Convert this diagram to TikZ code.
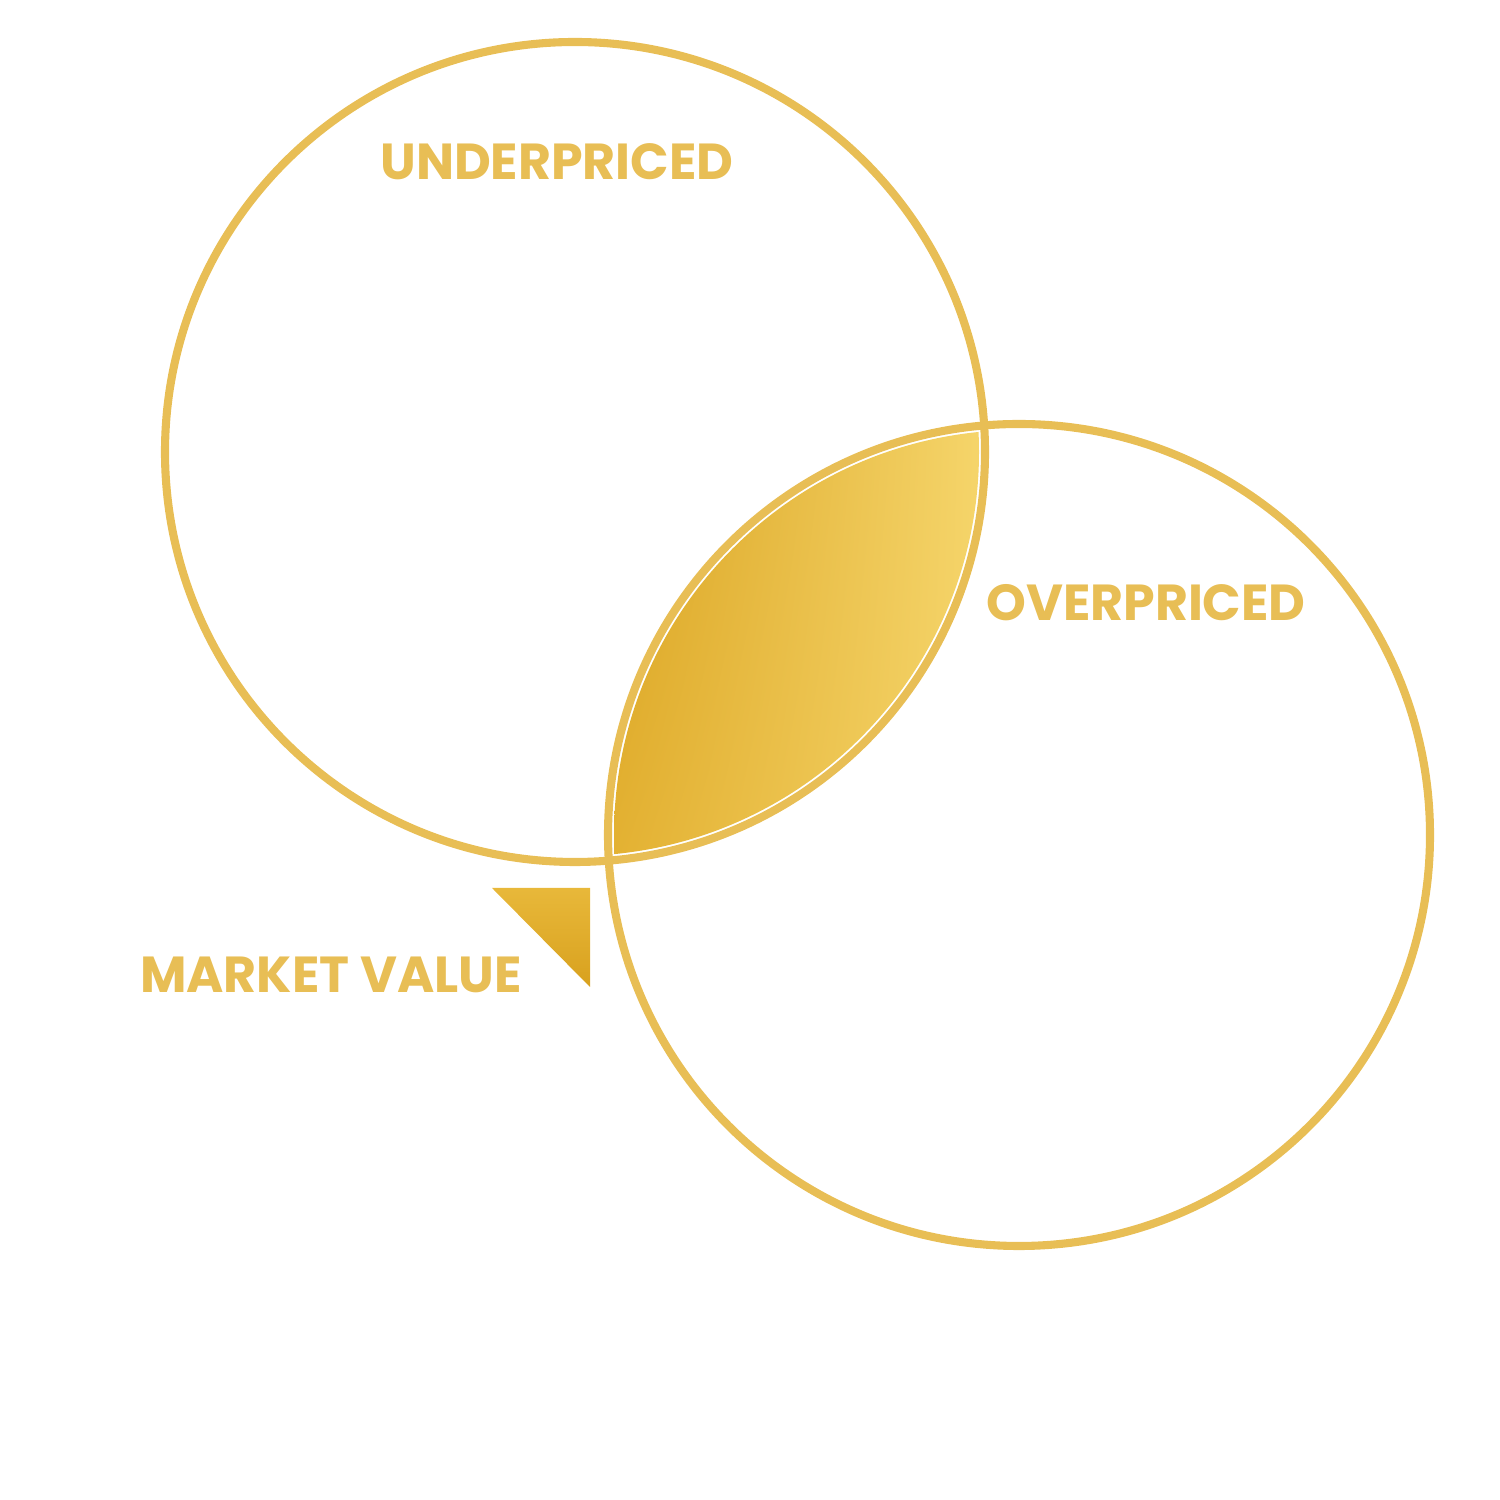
\documentclass[tikz,border=0pt]{standalone}
\usepackage{fontspec}
\setmainfont{Poppins}
\usepackage{tikz}
\usetikzlibrary{positioning, shadings}

\definecolor{goldline}{HTML}{E8BE55}
\definecolor{golddark}{HTML}{D8A11E}
\definecolor{goldmid}{HTML}{E8B83A}
\definecolor{goldlight}{HTML}{F6D66C}

\begin{document}
\begin{tikzpicture}[x=0.01cm, y=0.01cm,
    ring/.style={draw=goldline, line width=2.3pt},
    tag/.style={text=goldline, font=\fontsize{14.4}{17}\selectfont\bfseries, inner sep=0pt}]
    \useasboundingbox (0,0) rectangle (1500,1500);

    % Vùng giao (lá vàng)
    \begin{scope}
        \clip (575,1048) circle (404);
        \clip (1019,665) circle (405);
        \shade[lower left=goldmid, lower right=goldlight, upper left=golddark, upper right=goldlight]
            (600,420) rectangle (990,1080);
    \end{scope}

    % Tam giác
    \shade[top color=goldmid, bottom color=golddark]
        (492,612) -- (590,612) -- (590,513) -- cycle;

    % Hai đường tròn
    \draw[ring] (575,1048) circle (410);
    \draw[ring] (1019,665) circle (411);

    % Nhãn
    \node[tag] (under) at (557,1338) {UNDERPRICED};
    \node[tag] (over) at (1146,897) {OVERPRICED};
    \node[tag] (market) at (331,525) {MARKET VALUE};
\end{tikzpicture}
\end{document}
